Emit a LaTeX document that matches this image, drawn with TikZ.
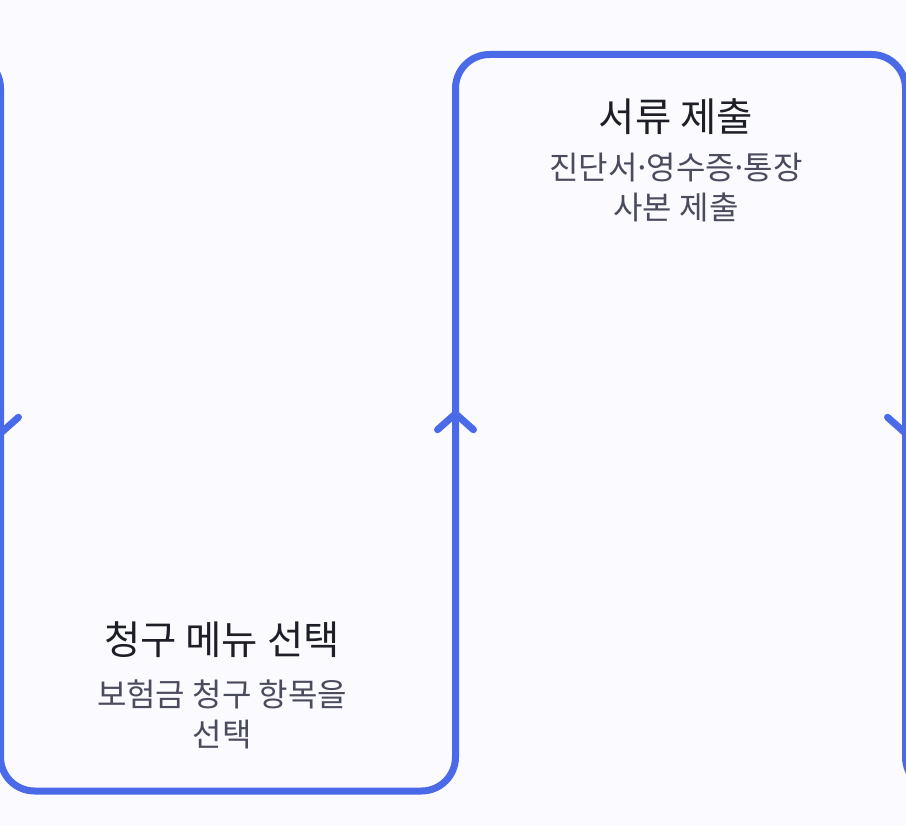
\documentclass[tikz,border=0pt]{standalone}
\usepackage{fontspec}
\setmainfont{Noto Sans CJK KR}
\usetikzlibrary{arrows.meta,decorations.markings}
\definecolor{flowblue}{RGB}{74,106,232}
\definecolor{pagebg}{RGB}{250,250,255}
\definecolor{titleink}{RGB}{30,30,40}
\definecolor{descink}{RGB}{75,75,94}
\newcommand{\middot}{\kern-4.5pt·\kern-4.5pt}
\tikzset{
  flow/.style={draw=flowblue, line width=7pt, rounded corners=34pt},
  midtip/.style={decoration={markings, mark=at position #1 with
      {\arrow[flowblue, line width=7pt]{Straight Barb[length=16pt,width=36pt,round]}}},
    decorate},
  steptitle/.style={font=\fontsize{39.5}{46}\selectfont, text=titleink},
  stepdesc/.style={font=\fontsize{32}{40}\selectfont, text=descink, align=center},
}

\begin{document}
\begin{tikzpicture}[x=1pt, y=-1pt]
\useasboundingbox[fill=pagebg] (0,0) rectangle (906,826);
\clip (0,0) rectangle (906,826);
% bends of the serpentine flow
\coordinate (p0) at (-80,54.5);
\coordinate (c1) at (0.5,54.5);
\coordinate (c2) at (0.5,791);
\coordinate (c3) at (455.5,791);
\coordinate (c4) at (455.5,54.5);
\coordinate (c5) at (905.5,54.5);
\coordinate (c6) at (905.5,791);
\coordinate (p7) at (990,791);
\draw[flow] (p0) -- (c1) -- (c2) -- (c3) -- (c4) -- (c5) -- (c6) -- (p7);
\path[midtip=0.519] (c1) -- (c2);
\path[midtip=0.517] (c3) -- (c4);
\path[midtip=0.519] (c5) -- (c6);
% steps
\node[steptitle] (submit) at (676,117) {서류 제출};
\node[stepdesc] (submitnote) at (676,188) {진단서\middot 영수증\middot 통장\\사본 제출};
\node[steptitle] (menu) at (222,640) {청구 메뉴 선택};
\node[stepdesc] (menunote) at (222,714) {보험금 청구 항목을\\선택};
\end{tikzpicture}
\end{document}
